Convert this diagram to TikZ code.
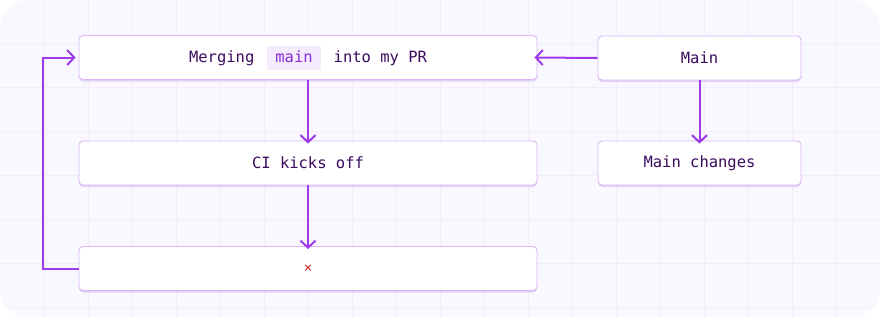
\documentclass[tikz,border=0pt]{standalone}
\usepackage{fontspec}
\setmonofont{DejaVu Sans Mono}
\usetikzlibrary{arrows.meta,shadows}
\definecolor{bgcol}{HTML}{FAF8FF}
\definecolor{gridcol}{HTML}{F1EDFB}
\definecolor{boxline}{HTML}{D9B8F5}
\definecolor{shadowcol}{HTML}{C9A6EE}
\definecolor{arrowcol}{HTML}{9D3BEB}
\definecolor{textcol}{HTML}{3B0C5E}
\definecolor{codebg}{HTML}{F4ECFD}
\definecolor{codefg}{HTML}{8A2BD6}
\definecolor{failred}{HTML}{DC2626}
\newcommand{\codechip}[1]{{\setlength{\fboxsep}{0pt}\colorbox{codebg}{\rule[-7pt]{0pt}{24pt}\hspace{8pt}\textcolor{codefg}{#1}\hspace{8pt}}}}
\tikzset{
  flowbox/.style={draw=boxline, line width=0.9pt, fill=white, rounded corners=4pt,
    minimum height=44pt, inner sep=0pt, text=textcol,
    font=\ttfamily\fontsize{15.5}{19}\selectfont,
    drop shadow={shadow xshift=0pt, shadow yshift=-2pt, fill=shadowcol, opacity=0.45}},
  link/.style={draw=arrowcol, line width=2pt, -{Straight Barb[length=7pt,width=15pt]}},
}
\begin{document}
\begin{tikzpicture}[x=1pt,y=-1pt]
\useasboundingbox (0,0) rectangle (880,317);
\begin{scope}
  \clip[rounded corners=28pt] (0,0) rectangle (880,317);
  \fill[bgcol] (0,0) rectangle (880,317);
  \foreach \i in {44,88,...,880} \draw[gridcol, line width=0.8pt] (\i,0) -- (\i,317);
  \foreach \j in {43,87,...,317} \draw[gridcol, line width=0.8pt] (0,\j) -- (880,\j);
\end{scope}

\node[flowbox, minimum width=458pt] (merge) at (308,57.5)
  {Merging\hspace{13pt}\codechip{main}\hspace{13pt}into my PR};
\node[flowbox, minimum width=458pt] (ci) at (308,163) {CI kicks off};
\node[flowbox, minimum width=458pt] (fail) at (308,268.5) {\textcolor{failred}{\fontsize{14}{16}\selectfont ×}};
\node[flowbox, minimum width=203pt] (main) at (699.5,58) {Main};
\node[flowbox, minimum width=203pt] (changes) at (699.5,163) {Main changes};

\coordinate (loopa) at (43,268.5);
\coordinate (loopb) at (43,57.5);

\draw[link] (merge.south) -- ([yshift=-3pt]ci.north);
\draw[link] (ci.south) -- ([yshift=-3pt]fail.north);
\draw[link] (main.west) -- ([xshift=-3pt]merge.east);
\draw[link] (main.south) -- ([yshift=-3pt]changes.north);
\draw[link] (fail.west) -- (loopa) -- (loopb) -- ([xshift=-3pt]merge.west);
\end{tikzpicture}
\end{document}
